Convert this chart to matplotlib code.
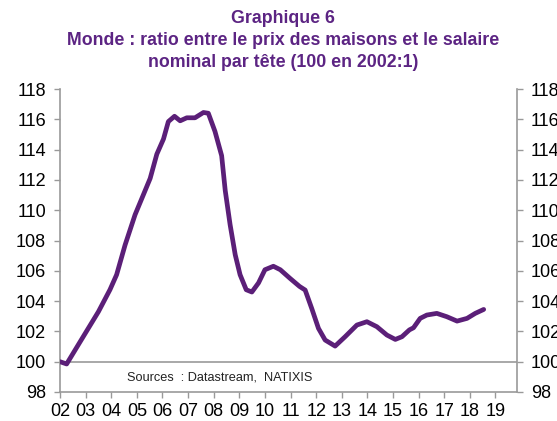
#!/usr/bin/env python3
"""World house price / nominal wage per head ratio chart."""

import matplotlib
matplotlib.use("Agg")
import matplotlib.pyplot as plt

# data (x in years, 100 = 2002:1)
years = [2002.0, 2002.26, 2002.78, 2003.5, 2003.95, 2004.21, 2004.54, 2004.93,
         2005.25, 2005.52, 2005.78, 2006.04, 2006.23, 2006.47, 2006.69, 2006.95,
         2007.27, 2007.6, 2007.79, 2008.05, 2008.31, 2008.45, 2008.64, 2008.84,
         2009.03, 2009.27, 2009.49, 2009.75, 2010.0, 2010.33, 2010.6, 2010.98,
         2011.35, 2011.57, 2011.83, 2012.09, 2012.35, 2012.74, 2013.13, 2013.59,
         2013.98, 2014.37, 2014.76, 2015.09, 2015.35, 2015.64, 2015.8, 2016.06,
         2016.32, 2016.71, 2017.1, 2017.5, 2017.89, 2018.21, 2018.54]
ratio = [100.0, 99.85, 101.3, 103.3, 104.75, 105.74, 107.7, 109.7,
         111.0, 112.1, 113.7, 114.7, 115.85, 116.2, 115.9, 116.1,
         116.1, 116.45, 116.4, 115.2, 113.6, 111.3, 109.05, 107.06,
         105.74, 104.75, 104.6, 105.2, 106.07, 106.3, 106.07, 105.5,
         104.97, 104.73, 103.5, 102.2, 101.43, 101.03, 101.65, 102.42,
         102.64, 102.31, 101.76, 101.47, 101.65, 102.1, 102.24, 102.86,
         103.08, 103.19, 102.97, 102.68, 102.86, 103.19, 103.45]

year_ticks = list(range(2002, 2020))
year_labels = ["%02d" % (y % 100) for y in year_ticks]
y_ticks = list(range(98, 119, 2))

title = ("Graphique 6\n"
         "Monde : ratio entre le prix des maisons et le salaire\n"
         "nominal par tête (100 en 2002:1)")

plt.rcParams["font.family"] = ["Liberation Sans", "DejaVu Sans"]
purple = "#5b1f78"
grey = "#999999"

fig = plt.figure(figsize=(5.57, 4.21), dpi=100)
ax = fig.add_axes([60 / 557, 29 / 421, 457 / 557, 303 / 421])

ax.plot(years, ratio, color=purple, lw=3.4, solid_capstyle="round",
        solid_joinstyle="round", zorder=3)
ax.axhline(100, color=grey, lw=1.2, zorder=2)

ax.set_xlim(2002, 2019.84)
ax.set_ylim(98, 118)
ax.set_xticks(year_ticks)
ax.set_xticklabels(year_labels)
ax.set_yticks(y_ticks)

for side in ["left", "right", "bottom"]:
    ax.spines[side].set_color(grey)
    ax.spines[side].set_linewidth(1.2)
ax.spines["top"].set_visible(False)

ax.tick_params(axis="y", which="both", left=True, right=True,
               labelleft=True, labelright=True, direction="out",
               length=4, width=1.0, color=grey, pad=6, labelsize=13)
ax.tick_params(axis="x", direction="out", length=4, width=1.0, color=grey,
               pad=4, labelsize=13)

ax.text(2004.6, 98.95, "Sources  : Datastream,  NATIXIS", fontsize=9.2,
        color="#222222", va="center")

fig.text(283 / 557, 1 - 10 / 421, title, ha="center", va="top",
         fontsize=12.8, fontweight="bold", color="#5c2483", linespacing=1.38)

fig.savefig("out.png", dpi=100)
